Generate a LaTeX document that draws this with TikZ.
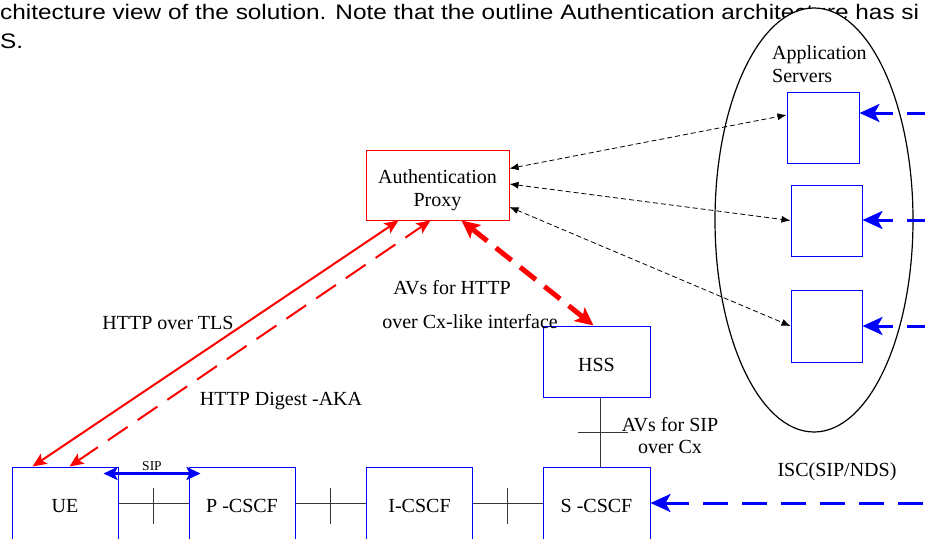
\documentclass[tikz,border=0pt]{standalone}
\usepackage{fontspec}
\usepackage{graphicx}
\setmainfont{Liberation Serif}
\newfontfamily\hdrfont{Liberation Sans}
\usetikzlibrary{arrows.meta,calc,shapes.geometric}
\definecolor{pureblue}{RGB}{0,0,255}
\definecolor{purered}{RGB}{255,0,0}
\definecolor{linegray}{RGB}{55,55,55}
\begin{document}
\begin{tikzpicture}[x=1pt,y=-1pt,
  lbl/.style={font=\fontsize{20}{23}\selectfont, inner sep=0pt, anchor=base},
  hdr/.style={font=\hdrfont\fontsize{21}{21}\selectfont, inner sep=0pt, anchor=base west},
  bluebox/.style={draw=pureblue, line width=1pt, fill=white, inner sep=0pt,
                  font=\fontsize{20}{23}\selectfont},
  redbox/.style={draw=purered, line width=1pt, fill=white, inner sep=0pt},
  link/.style={draw=linegray, line width=1pt},
  httpsolid/.style={draw=purered, line width=2pt,
     arrows={Stealth[length=14pt,width=12pt,inset=3pt]-Stealth[length=14pt,width=12pt,inset=3pt]}},
  httpdash/.style={draw=purered, line width=2pt, dash pattern=on 24pt off 12pt,
     arrows={Stealth[length=14pt,width=12pt,inset=3pt]-Stealth[length=14pt,width=12pt,inset=3pt]}},
  cxdash/.style={draw=purered, line width=5pt, dash pattern=on 20pt off 11pt,
     arrows={Stealth[length=18pt,width=17pt,inset=4pt]-Stealth[length=18pt,width=17pt,inset=4pt]}},
  thindash/.style={draw=black, line width=0.8pt, dash pattern=on 5pt off 3pt,
     arrows={Latex[length=9pt,width=7pt]-Latex[length=9pt,width=7pt]}},
  iscdash/.style={draw=pureblue, line width=3pt, dash pattern=on 25pt off 14pt,
     arrows={-Stealth[length=20pt,width=18pt,inset=5pt]}},
  siparrow/.style={draw=pureblue, line width=2.5pt,
     arrows={Stealth[length=14pt,width=13pt,inset=3pt]-Stealth[length=14pt,width=13pt,inset=3pt]}}
]
\useasboundingbox (0,0) rectangle (925,538);
\clip (0,0) rectangle (925,538);
\fill[white] (0,0) rectangle (925,538);

% header text (cut off in the reference)
\node[hdr] (hdrone) at (0,19.5) {\scalebox{1.16}[1]{chitecture view of the solution. Note that the outline Authentication architecture has si}};
\node[hdr] (hdrtwo) at (0,48) {\scalebox{1.16}[1]{S.}};

% application server group
\node[draw=black, line width=1.2pt, fill=white, ellipse, inner sep=0pt,
      minimum width=198pt, minimum height=424pt] (asgroup) at (814,220) {};
\node[lbl, anchor=base west] (lapp) at (772,59.3) {Application};
\node[lbl, anchor=base west] (lsrv) at (772,82.7) {Servers};
\node[bluebox, minimum width=72pt, minimum height=71pt] (as1) at (823,127.5) {};
\node[bluebox, minimum width=71pt, minimum height=71pt] (as2) at (826.5,220.5) {};
\node[bluebox, minimum width=71pt, minimum height=72pt] (as3) at (826.5,326) {};

% main boxes
\node[redbox, minimum width=143pt, minimum height=70pt] (proxy) at (437.5,185) {};
\node[lbl] (lauth) at (437.5,183) {Authentication};
\node[lbl] (lproxy) at (437.5,206) {Proxy};
\node[bluebox, minimum width=106pt, minimum height=78pt] (ue) at (65,506) {UE};
\node[bluebox, minimum width=106pt, minimum height=78pt] (pcscf) at (242,506) {P -CSCF};
\node[bluebox, minimum width=106pt, minimum height=78pt] (icscf) at (419.5,506) {I-CSCF};
\node[bluebox, minimum width=107pt, minimum height=78pt] (scscf) at (596.5,506) {S -CSCF};
\node[bluebox, minimum width=107pt, minimum height=71pt, text height=19.2pt] (hss) at (596.5,361.5) {HSS};

% interfaces between the CSCF chain
\draw[link] ([yshift=3pt]ue.east) -- ([yshift=3pt]pcscf.west);
\draw[link] ($([yshift=3pt]ue.east)!0.5!([yshift=3pt]pcscf.west)$) ++(0,-15) -- ++(0,36);
\draw[link] ([yshift=3pt]pcscf.east) -- ([yshift=3pt]icscf.west);
\draw[link] ($([yshift=3pt]pcscf.east)!0.5!([yshift=3pt]icscf.west)$) ++(0,-15) -- ++(0,36);
\draw[link] ([yshift=3pt]icscf.east) -- ([yshift=3pt]scscf.west);
\draw[link] ($([yshift=3pt]icscf.east)!0.5!([yshift=3pt]scscf.west)$) ++(0,-15) -- ++(0,36);
\draw[link] ([xshift=3.5pt]hss.south) -- ([xshift=3.5pt]scscf.north);
\draw[link] ($([xshift=3.5pt]hss.south)!0.5!([xshift=3.5pt]scscf.north)$) ++(-22,0) -- ++(50,0);

% SIP arrow
\draw[siparrow] ($(ue.north east)+(-15,7)$) -- ($(pcscf.north west)+(12,7)$);
\node[lbl, font=\fontsize{13.5}{15}\selectfont] (lsip) at (152,470.7) {SIP};

% HTTP arrows
\draw[httpsolid] ($(ue.north west)+(21,0)$) -- ($(proxy.south west)+(33,0)$);
\draw[httpdash] ($(ue.north west)+(58,0)$) -- ($(proxy.south west)+(65,0)$);
\draw[cxdash] ($(proxy.south west)+(96,0)$) -- ($(hss.north)+(-3,0)$);

% proxy to application servers
\draw[thindash] ($(proxy.north east)+(0,19)$) -- ($(as1.west)+(0,-12.5)$);
\draw[thindash] ($(proxy.east)+(0,-1)$) -- (as2.west);
\draw[thindash] ($(proxy.east)+(0,22)$) -- (as3.west);

% ISC arrows from the right
\coordinate (r1) at (932,113);
\coordinate (r2) at (932,220);
\coordinate (r3) at (932,326);
\coordinate (r4) at (923,503);
\draw[iscdash] (r1) -- (as1.east |- r1);
\draw[iscdash] (r2) -- (as2.east |- r2);
\draw[iscdash] (r3) -- (as3.east |- r3);
\draw[iscdash] (r4) -- (scscf.east |- r4);

% labels
\node[lbl] (lhttptls) at (168,329) {HTTP over TLS};
\node[lbl] (ldigest) at (281,405) {HTTP Digest -AKA};
\node[lbl] (lavhttp) at (452,294) {AVs for HTTP};
\node[lbl] (lcxlike) at (470,328) {over Cx-like interface};
\node[lbl] (lavsip) at (670,431) {AVs for SIP};
\node[lbl] (lovercx) at (670,453) {over Cx};
\node[lbl] (lisc) at (837,476) {ISC(SIP/NDS)};
\end{tikzpicture}
\end{document}
